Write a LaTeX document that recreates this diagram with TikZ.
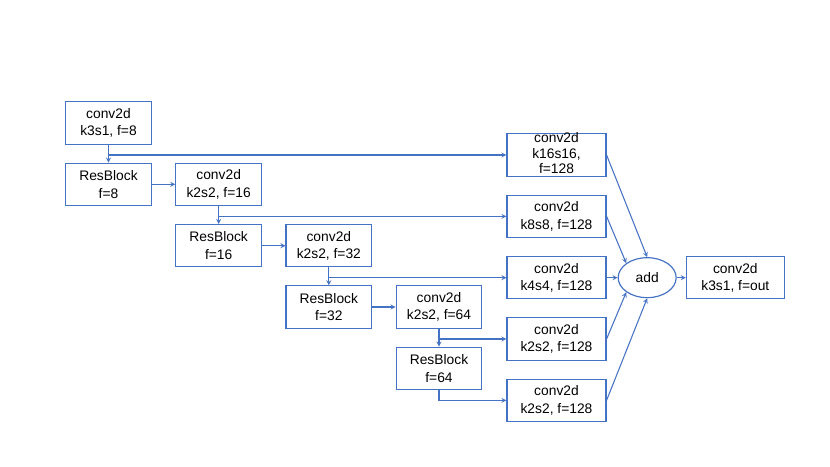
\documentclass[tikz,border=0pt]{standalone}
\usepackage{fontspec}
\setmainfont{Liberation Sans}
\usepackage{tikz}
\usetikzlibrary{arrows,positioning,shapes.geometric}
\definecolor{lineblue}{RGB}{68,114,196}

\begin{document}
\begin{tikzpicture}[node distance=.535cm and .7cm,
  every node/.style={font=\fontsize{11.8}{15}\selectfont, align=center},
  box/.style={draw=lineblue, line width=1pt, minimum width=2.57cm, minimum height=1.27cm, inner sep=1pt},
  wide/.style={box, minimum width=2.97cm},
  conn/.style={draw=lineblue, line width=.9pt, ->, >=stealth}]

\useasboundingbox (0,0) rectangle (24.9,-14.01);

\node [box] at (3.255,-3.69) (c8) {conv2d\\k3s1, f=8};
\node [box, below = of c8] (r8) {ResBlock\\f=8};
\node [box, right = of r8] (c16) {conv2d\\k2s2, f=16};
\node [box, below = of c16] (r16) {ResBlock\\f=16};
\node [box, right = of r16] (c32) {conv2d\\k2s2, f=32};
\node [box, below = of c32] (r32) {ResBlock\\f=32};
\node [box, right = of r32] (c64) {conv2d\\k2s2, f=64};
\node [box, below = of c64] (r64) {ResBlock\\f=64};

\node [wide] at (16.695,-4.65) (k16) {\raisebox{-.45em}{\smash{\begin{tabular}{@{}c@{}}conv2d\\[-1.5pt]k16s16,\\[-1.5pt]f=128\end{tabular}}}};
\node [wide, below = of k16] (k8) {conv2d\\k8s8, f=128};
\node [wide, below = of k8] (k4) {conv2d\\k4s4, f=128};
\node [wide, below = of k4] (k2a) {conv2d\\k2s2, f=128};
\node [wide, below = of k2a] (k2b) {conv2d\\k2s2, f=128};

\node [ellipse, draw=lineblue, line width=1pt, minimum width=1.74cm, minimum height=1.2cm, inner sep=0pt, right =.33cm of k4] (add) {add};
\node [box, minimum width=2.94cm, right =.27cm of add] (out) {conv2d\\k3s1, f=out};

\draw [conn] (c8) to (r8);
\draw [conn] (r8) to (c16);
\draw [conn] (c16) to (r16);
\draw [conn] (r16) to (c32);
\draw [conn] (c32) to (r32);
\draw [conn] (r32) to (c64);
\draw [conn] (c64) to (r64);

\draw [conn] (c8.south |- k16) to (k16);
\draw [conn] (c16.south |- k8) to (k8);
\draw [conn] (c32.south |- k4) to (k4);
\draw [conn] (c64.south |- k2a) to (k2a);
\draw [conn] (r64.south) |- (k2b);

\draw [conn] (k16.east) to (add.north);
\draw [conn] (k8.east) to (add.north west);
\draw [conn] (k4) to (add);
\draw [conn] (k2a.east) to (add.south west);
\draw [conn] (k2b.east) to (add.south);
\draw [conn] (add) to (out);

\end{tikzpicture}
\end{document}
